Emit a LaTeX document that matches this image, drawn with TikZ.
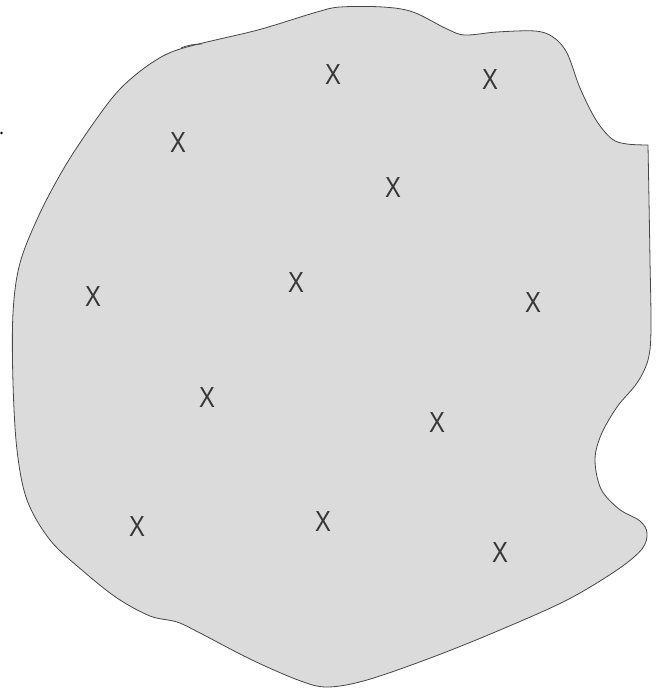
\documentclass[tikz,border=0pt]{standalone}
\usepackage{fontspec}
\setmainfont{Liberation Sans}
\definecolor{blobfill}{RGB}{219,219,219}
\definecolor{blobline}{RGB}{70,70,70}
\definecolor{xcol}{RGB}{55,55,55}
\begin{document}
\begin{tikzpicture}[x=1pt,y=-1pt,
  mark x/.style={text=xcol,font=\fontsize{29}{29}\selectfont,inner sep=0pt,xscale=0.82},
  outline/.style={draw=blobline,line width=0.8pt,fill=blobfill}]
\useasboundingbox (0,0) rectangle (660,689);
\path[outline] plot[smooth,tension=0.55] coordinates {
 (648,145) (649,200) (650,260) (651,330) (648,360) (637,383) (617,407) (601,435)
 (595,460) (601,489) (619,509) (640,521) (647,533) (642,549) (617,570) (567,600)
 (500,630) (433,657) (367,680) (327,687) (298,680) (250,659) (200,633) (177,622)
 (150,616) (117,598) (83,571) (50,540) (27,500) (17,450) (13,383) (13,313) (20,263)
 (40,213) (67,163) (100,114) (122,87) (150,64) (180,49) (250,32) (275,25) (317,12)
 (340,7) (383,7) (413,12) (447,29) (465,35) (497,32) (535,31) (553,37) (567,53)
 (580,88) (596,120) (612,139) (627,144) (648,145)} -- cycle;
\draw[blobline,line width=0.8pt] (181,48) .. controls (188,45) and (195,44) .. (202,44);
\fill[black] (1.5,133) circle (1.3);
\node[mark x] (x1) at (333,75) {X};
\node[mark x] (x2) at (490,80) {X};
\node[mark x] (x3) at (178,143) {X};
\node[mark x] (x4) at (393,188) {X};
\node[mark x] (x5) at (93,297) {X};
\node[mark x] (x6) at (296,283) {X};
\node[mark x] (x7) at (533,303) {X};
\node[mark x] (x8) at (207,398) {X};
\node[mark x] (x9) at (437,423) {X};
\node[mark x] (x10) at (137,527) {X};
\node[mark x] (x11) at (323,522) {X};
\node[mark x] (x12) at (500,553) {X};
\end{tikzpicture}
\end{document}
